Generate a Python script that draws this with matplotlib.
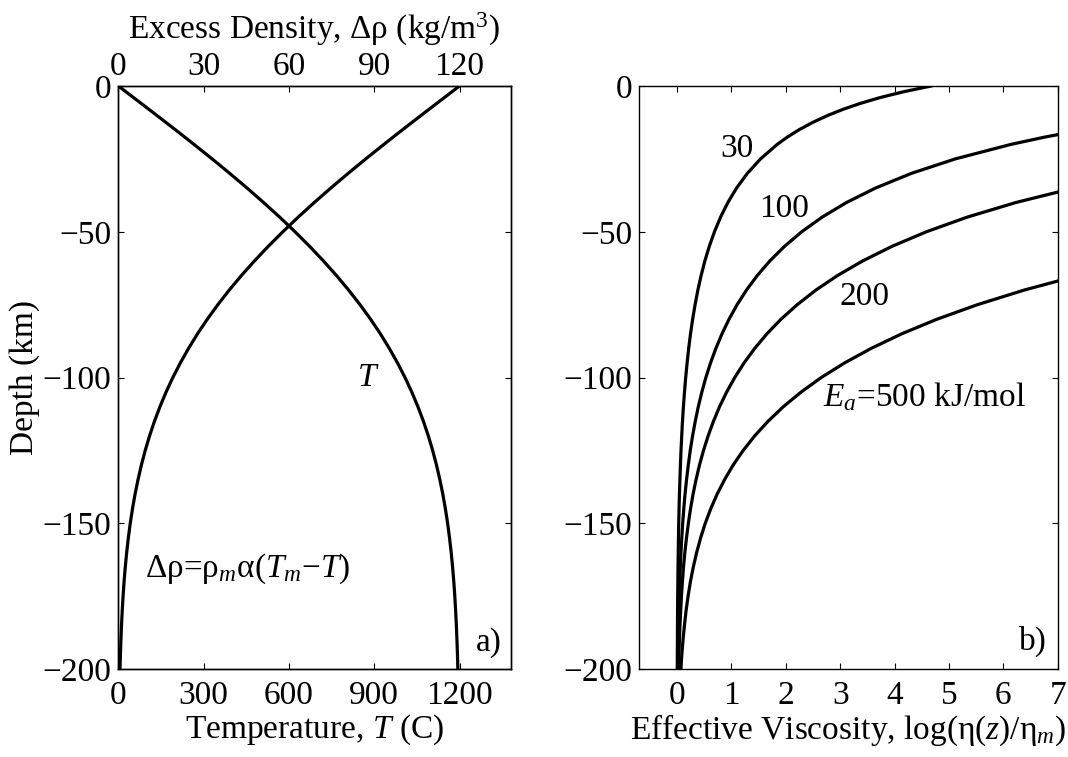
import matplotlib
matplotlib.use("Agg")
import matplotlib.pyplot as plt

plt.rcParams['font.family'] = ['Liberation Serif', 'DejaVu Serif']
plt.rcParams['mathtext.fontset'] = 'custom'
plt.rcParams['mathtext.rm'] = 'Liberation Serif'
plt.rcParams['mathtext.it'] = 'Liberation Serif:italic'
plt.rcParams['mathtext.bf'] = 'Liberation Serif:bold'
plt.rcParams['axes.unicode_minus'] = True

# ---------------- data ----------------
depth_km = [0, -2, -4, -6, -8, -10, -12.5, -15, -17.5, -20, -25, -30, -35, -40, -45,
            -50, -55, -60, -65, -70, -75, -80, -85, -90, -95, -100, -105, -110, -115,
            -120, -125, -130, -135, -140, -145, -150, -155, -160, -165, -170, -175,
            -180, -185, -190, -195, -200]

temperature_C = [0, 26.9, 53.8, 80.7, 107.4, 134.1, 167.4, 200.4, 233.2, 265.7, 329.7,
                 392.1, 452.7, 511.3, 567.6, 621.4, 672.7, 721.2, 767.0, 809.9, 849.9,
                 887.1, 921.5, 953.0, 981.9, 1008.3, 1032.1, 1053.6, 1072.9, 1090.1,
                 1105.4, 1118.9, 1130.7, 1141.2, 1150.2, 1158.1, 1164.8, 1170.6,
                 1175.6, 1179.8, 1183.3, 1186.3, 1188.8, 1190.9, 1192.7, 1194.1]

excess_density = [120, 117.31, 114.62, 111.93, 109.26, 106.59, 103.26, 99.96, 96.68,
                  93.43, 87.03, 80.79, 74.73, 68.87, 63.24, 57.86, 52.73, 47.88, 43.30,
                  39.01, 35.01, 31.29, 27.85, 24.70, 21.81, 19.17, 16.79, 14.64, 12.71,
                  10.99, 9.46, 8.11, 6.93, 5.88, 4.98, 4.19, 3.52, 2.94, 2.44, 2.02,
                  1.67, 1.37, 1.12, 0.91, 0.73, 0.59]

visc_Ea30 = [4.673, 4.159, 3.729, 3.365, 3.054, 2.784, 2.493, 2.245, 2.031, 1.844, 1.536,
             1.292, 1.095, 0.934, 0.800, 0.688, 0.593, 0.512, 0.443, 0.383, 0.332, 0.287,
             0.248, 0.214, 0.185, 0.159, 0.137, 0.117, 0.100, 0.086, 0.073, 0.062,
             0.053, 0.044, 0.037, 0.031, 0.026, 0.022, 0.018, 0.015, 0.012, 0.010,
             0.008, 0.007, 0.005, 0.004]
visc_Ea100 = [15.578, 13.863, 12.431, 11.216, 10.181, 9.281, 8.311, 7.485, 6.770, 6.148,
              5.119, 4.306, 3.651, 3.113, 2.667, 2.293, 1.977, 1.707, 1.476, 1.277, 1.105,
              0.956, 0.827, 0.714, 0.616, 0.530, 0.456, 0.391, 0.335, 0.286, 0.243,
              0.207, 0.175, 0.147, 0.124, 0.104, 0.087, 0.072, 0.060, 0.049, 0.041,
              0.033, 0.027, 0.022, 0.018, 0.014]
visc_Ea200 = [31.16, 27.73, 24.86, 22.43, 20.36, 18.56, 16.62, 14.97, 13.54, 12.30, 10.24,
              8.612, 7.302, 6.226, 5.334, 4.587, 3.954, 3.415, 2.952, 2.554, 2.211, 1.912,
              1.653, 1.429, 1.232, 1.061, 0.912, 0.782, 0.670, 0.572, 0.487, 0.413,
              0.350, 0.295, 0.248, 0.208, 0.174, 0.144, 0.119, 0.099, 0.081, 0.067,
              0.054, 0.044, 0.035, 0.029]
visc_Ea500 = [77.9, 69.3, 62.2, 56.1, 50.9, 46.4, 41.6, 37.4, 33.9, 30.7, 25.6, 21.53,
              18.25, 15.57, 13.34, 11.47, 9.884, 8.537, 7.381, 6.386, 5.527, 4.781, 4.133,
              3.571, 3.081, 2.652, 2.281, 1.956, 1.674, 1.429, 1.217, 1.033, 0.875,
              0.737, 0.620, 0.519, 0.434, 0.361, 0.299, 0.246, 0.203, 0.166, 0.136,
              0.110, 0.088, 0.071]

temp_ticks = [0, 300, 600, 900, 1200]
dens_ticks = [0, 30, 60, 90, 120]
depth_ticks = [0, -50, -100, -150, -200]
visc_ticks = [0, 1, 2, 3, 4, 5, 6, 7]

# ---------------- figure ----------------
FS = 24
LW = 2.3
fig = plt.figure(figsize=(10.68, 7.57), dpi=100)

ax1 = fig.add_axes([0.1108, 0.1162, 0.3674, 0.7702])
ax2 = fig.add_axes([0.5983, 0.1162, 0.3920, 0.7702])

def style(ax):
    for s in ax.spines.values():
        s.set_linewidth(1.0)
    ax.tick_params(direction='in', length=4.5, width=0.8, labelsize=FS, pad=8)

# left panel
ax1.plot(temperature_C, depth_km, color='black', lw=LW, solid_capstyle='butt')
ax1.set_xlim(0, 1380)
ax1.set_ylim(-200, 0)
ax1.set_xticks(temp_ticks)
ax1.set_yticks(depth_ticks)
style(ax1)
ax1.tick_params(axis='y', pad=5)
ax1.tick_params(top=False, right=True, labelright=False)
ax1.set_xlabel('Temperature, $T$ (C)', fontsize=FS, labelpad=1)
ax1.set_ylabel('Depth (km)', fontsize=FS, labelpad=2)

ax1t = ax1.twiny()
ax1t.plot(excess_density, depth_km, color='black', lw=LW, solid_capstyle='butt')
ax1t.set_xlim(0, 138)
ax1t.set_ylim(-200, 0)
ax1t.set_xticks(dens_ticks)
style(ax1t)
ax1t.tick_params(bottom=False, labelbottom=False, pad=3)
ax1t.set_xlabel('Excess Density, Δρ (kg/m$^3$)', fontsize=FS, labelpad=9)

ax1.text(880, -100, '$T$', fontsize=FS, ha='center', va='center')
ax1.text(94, -165.7, 'Δρ=ρ$_m$α($T_m$−$T$)', fontsize=FS, ha='left', va='center')
ax1.text(1302, -191, 'a)', fontsize=FS, ha='center', va='center')

# right panel
for vals in (visc_Ea30, visc_Ea100, visc_Ea200, visc_Ea500):
    ax2.plot(vals, depth_km, color='black', lw=LW)
ax2.set_xlim(-0.7, 7)
ax2.set_ylim(-200, 0)
ax2.set_xticks(visc_ticks)
ax2.set_yticks(depth_ticks)
style(ax2)
ax2.tick_params(axis='y', pad=5)
ax2.tick_params(top=True, right=True, labeltop=False, labelright=False)
ax2.set_xlabel('Effective Viscosity, log(η($z$)/η$_m$)', fontsize=FS, labelpad=1)

ax2.text(1.10, -21.4, '30', fontsize=FS, ha='center', va='center')
ax2.text(1.96, -42.0, '100', fontsize=FS, ha='center', va='center')
ax2.text(3.44, -72.4, '200', fontsize=FS, ha='center', va='center')
ax2.text(2.69, -106.5, '$E_a$=500 kJ/mol', fontsize=FS, ha='left', va='center')
ax2.text(6.55, -190.6, 'b)', fontsize=FS, ha='center', va='center')

fig.savefig('out.png', dpi=100)
